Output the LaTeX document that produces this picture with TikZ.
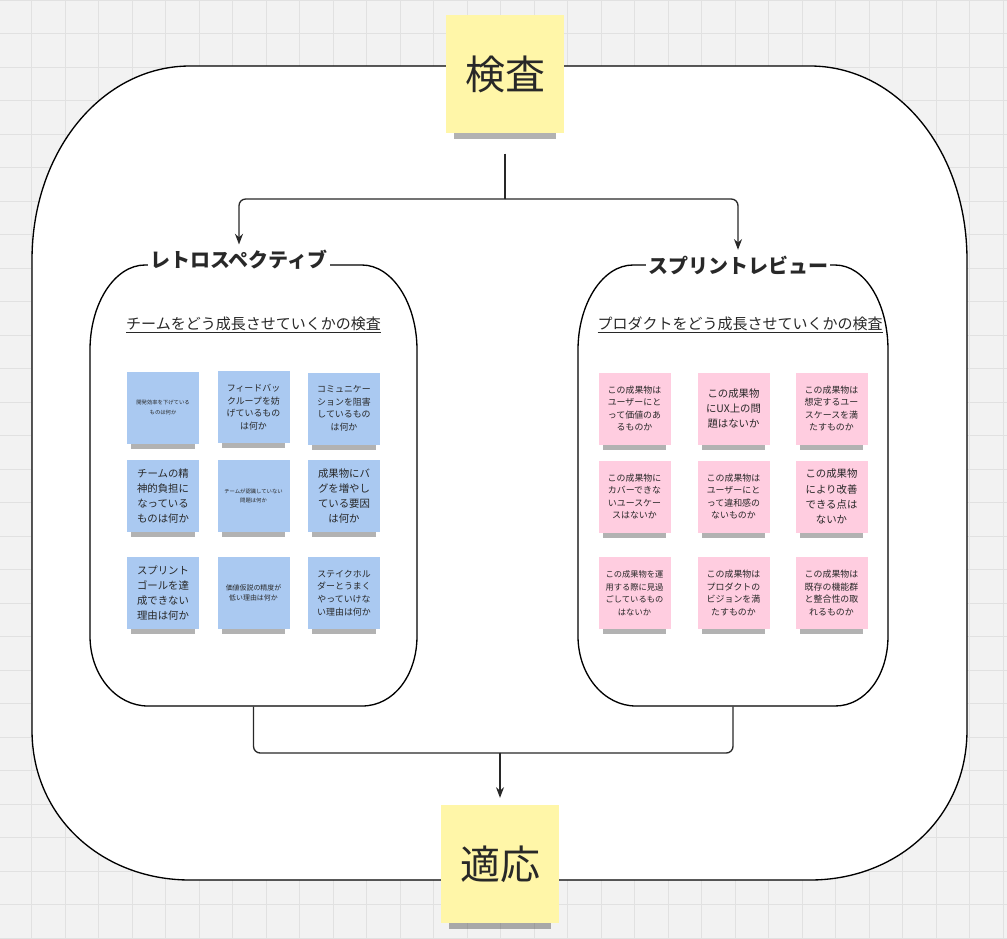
\documentclass[tikz,border=0pt]{standalone}
\usepackage{fontspec}
\setmainfont{Noto Sans CJK JP}
\usetikzlibrary{arrows.meta,shadows}

\definecolor{canvas}{RGB}{242,242,242}
\definecolor{gridgray}{RGB}{225,225,225}
\definecolor{ink}{RGB}{40,40,40}
\definecolor{stickyyellow}{RGB}{255,246,168}
\definecolor{stickyblue}{RGB}{170,201,241}
\definecolor{stickypink}{RGB}{255,205,224}

\tikzset{every picture/.style={line width=0.75pt}}
\tikzset{
  frame/.style={draw=black, line width=1pt, fill=white},
  flow/.style={draw=ink, line width=1pt, rounded corners=5},
  flowarrow/.style={flow, -{Stealth[length=8pt,width=6pt]}},
  sticky/.style={inner sep=0pt, align=center, text=ink},
  bignote/.style={sticky, fill=stickyyellow, minimum width=88.5pt, minimum height=88.5pt, font=\fontsize{30}{36}\selectfont,
    drop shadow={shadow xshift=0pt, shadow yshift=-12pt, shadow scale=0.86, opacity=0.3, fill=black}},
  smallnote/.style={sticky, minimum width=54pt, minimum height=54pt,
    drop shadow={shadow xshift=0pt, shadow yshift=-8pt, shadow scale=0.88, opacity=0.3, fill=black}},
  bluenote/.style={smallnote, fill=stickyblue},
  pinknote/.style={smallnote, fill=stickypink},
  tinytext/.style={font=\fontsize{4}{7}\selectfont},
  smalltext/.style={font=\fontsize{5.2}{7.5}\selectfont},
  narrowtext/.style={font=\fontsize{6.2}{9.4}\selectfont},
  midtext/.style={font=\fontsize{6.7}{9.4}\selectfont},
  bigtext/.style={font=\fontsize{7.8}{11.4}\selectfont},
  boxtitle/.style={fill=white, inner xsep=1.5pt, inner ysep=2pt, text=ink, font=\bfseries\fontsize{15}{18}\selectfont},
  boxsub/.style={text=ink, font=\fontsize{11.25}{14}\selectfont}
}

\begin{document}
\begin{tikzpicture}[x=0.75pt,y=0.75pt,yscale=-1,xscale=1]
\useasboundingbox (0,0) rectangle (1007,939);

%Background with grid
\fill[canvas] (0,0) rectangle (1007,939);
\foreach \gx in {31.5,65,...,1007} \draw[gridgray, line width=0.6pt] (\gx,0) -- (\gx,939);
\foreach \gy in {0,33.5,...,939} \draw[gridgray, line width=0.6pt] (0,\gy) -- (1007,\gy);

%Shape: outer loop
\draw[frame] (190,66) -- (810,66) .. controls (897,66) and (967,150) .. (967,260) -- (967,730) .. controls (967,818) and (897,880) .. (810,880) -- (190,880) .. controls (103,880) and (32,818) .. (32,730) -- (32,260) .. controls (32,150) and (103,66) .. (190,66) -- cycle ;

%Shape: retrospective box
\draw[frame] (145,265) -- (362,265) .. controls (392,265) and (417,303) .. (417,350) -- (417,636) .. controls (417,675) and (394,706) .. (362,706) -- (148,706) .. controls (116,706) and (90,675) .. (90,636) -- (90,350) .. controls (90,303) and (115,265) .. (145,265) -- cycle ;
\node[minimum width=245.25pt, minimum height=330.75pt, inner sep=0pt] (retro) at (253.5,485.5) {};

%Shape: sprint review box
\draw[frame] (633,265) -- (835,265) .. controls (865,265) and (888,303) .. (888,350) -- (888,636) .. controls (888,675) and (866,706) .. (835,706) -- (636,706) .. controls (604,706) and (578,675) .. (578,636) -- (578,350) .. controls (578,303) and (603,265) .. (633,265) -- cycle ;
\node[minimum width=232.5pt, minimum height=330.75pt, inner sep=0pt] (review) at (733,485.5) {};

% Text Node
\node[boxtitle] (retroT) at (239,260) {レトロスペクティブ};
% Text Node
\node[boxtitle] (reviewT) at (738,265) {スプリントレビュー};
% Text Node
\node[boxsub] (retroS) at (253.5,325) {\underline{チームをどう成長させていくかの検査}};
% Text Node
\node[boxsub] (reviewS) at (740,325) {\underline{プロダクトをどう成長させていくかの検査}};

%Sticky: inspection and adaptation
\node[bignote] (insp) at (505,74) {検査};
\node[bignote] (adapt) at (500,864) {適応};

%Sticky notes: retrospective
\node[bluenote, tinytext] (r1) at (163,407.5) {開発効率を下げている\\ものは何か};
\node[bluenote, midtext] (r2) at (253.5,407) {フィードバッ\\クループを妨\\げているもの\\は何か};
\node[bluenote, midtext] (r3) at (344,408.5) {コミュニケー\\ションを阻害\\しているもの\\は何か};
\node[bluenote, bigtext] (r4) at (163,496) {チームの精\\神的負担に\\なっている\\ものは何か};
\node[bluenote, tinytext] (r5) at (253.5,496) {チームが認識していない\\問題は何か};
\node[bluenote, bigtext] (r6) at (344,496) {成果物にバ\\グを増やし\\ている要因\\は何か};
\node[bluenote, bigtext] (r7) at (163,593) {スプリント\\ゴールを達\\成できない\\理由は何か};
\node[bluenote, smalltext] (r8) at (253.5,593) {価値仮説の精度が\\低い理由は何か};
\node[bluenote, midtext] (r9) at (344,593) {ステイクホル\\ダーとうまく\\やっていけな\\い理由は何か};

%Sticky notes: sprint review
\node[pinknote, midtext] (s1) at (634.5,408.5) {この成果物は\\ユーザーにと\\って価値のあ\\るものか};
\node[pinknote, bigtext] (s2) at (733.5,408.5) {この成果物\\にUX上の問\\題はないか};
\node[pinknote, midtext] (s3) at (831.5,408.5) {この成果物は\\想定するユー\\スケースを満\\たすものか};
\node[pinknote, midtext] (s4) at (634.5,496.5) {この成果物に\\カバーできな\\いユースケー\\スはないか};
\node[pinknote, midtext] (s5) at (733.5,496.5) {この成果物は\\ユーザーにと\\って違和感の\\ないものか};
\node[pinknote, bigtext] (s6) at (831.5,496.5) {この成果物\\により改善\\できる点は\\ないか};
\node[pinknote, narrowtext] (s7) at (634.5,593) {この成果物を運\\用する際に見過\\ごしているもの\\はないか};
\node[pinknote, midtext] (s8) at (733.5,593) {この成果物は\\プロダクトの\\ビジョンを満\\たすものか};
\node[pinknote, midtext] (s9) at (831.5,593) {この成果物は\\既存の機能群\\と整合性の取\\れるものか};

%Connectors
\coordinate (fork) at (505,199);
\coordinate (join) at (500,753);
\draw[flow] (insp.south) ++(0,20) -- (fork);
\draw[flowarrow, shorten >=2pt] (fork) -| (retroT.north);
\draw[flowarrow, shorten >=2pt] (fork) -| (reviewT.north);
\draw[flow] (retro.south) |- (join);
\draw[flow] (review.south) |- (join);
\draw[flowarrow, shorten >=5pt] (join) -- (adapt.north);

\end{tikzpicture}
\end{document}
